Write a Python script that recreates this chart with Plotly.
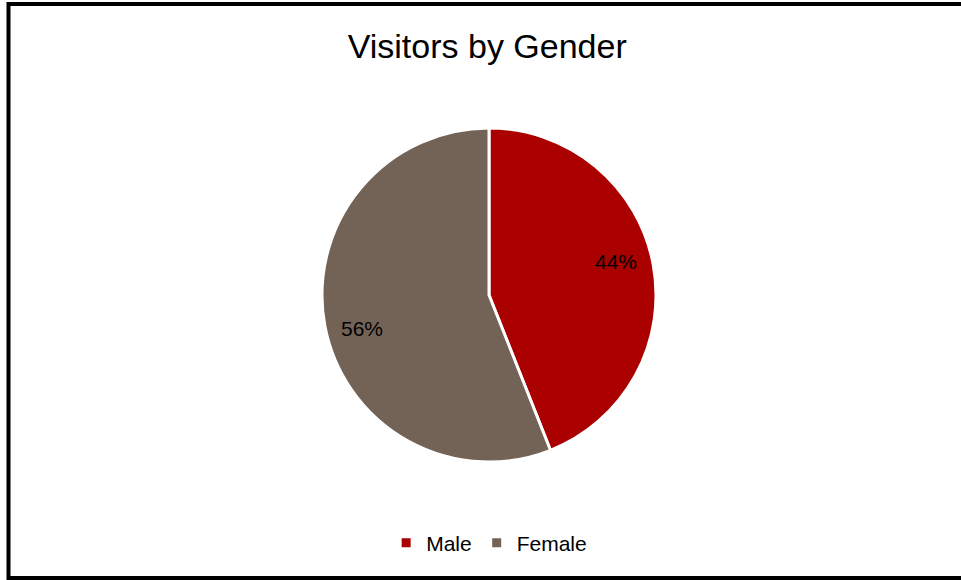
import math
import plotly.graph_objects as go

W, H = 961, 580
labels = ["Male", "Female"]
values = [44, 56]
colors = ["#AA0000", "#736357"]

cx, cy, R = 489, 295, 167
FONT = "Liberation Sans, Arial, sans-serif"

fig = go.Figure(go.Pie(
    labels=labels,
    values=values,
    sort=False,
    direction="clockwise",
    rotation=0,
    marker=dict(colors=colors, line=dict(color="white", width=3)),
    textinfo="none",
    domain=dict(x=[(cx - R) / W, (cx + R) / W], y=[(H - cy - R) / H, (H - cy + R) / H]),
    hoverinfo="label+percent",
))

# percentage labels placed along each slice's mid angle (derived from the data)
total = sum(values)
annotations = []
start = 0.0
for v in values:
    frac = v / total
    mid = (start + frac / 2) * 360 - 4
    a = math.radians(mid)
    r = 0.785 * R
    px = cx + r * math.sin(a)
    py = cy - r * math.cos(a)
    annotations.append(dict(x=px / W, y=1 - py / H, xref="paper", yref="paper",
                            text=f"{round(frac * 100)}%", showarrow=False,
                            font=dict(family=FONT, size=21, color="black")))
    start += frac

fig.update_layout(
    width=W, height=H,
    margin=dict(l=0, r=0, t=0, b=0),
    paper_bgcolor="white",
    title=dict(text="Visitors by Gender", x=0.507, xanchor="center", y=1 - 46 / H, yanchor="middle",
               font=dict(family=FONT, size=34, color="black")),
    legend=dict(orientation="h", x=0.509, xanchor="center", y=1 - 543 / H, yanchor="middle",
                font=dict(family=FONT, size=21, color="black"),
                itemwidth=30, traceorder="normal"),
    annotations=annotations,
    shapes=[dict(type="rect", xref="paper", yref="paper",
                 x0=8.5 / W, x1=1.02, y0=1 - 578 / H, y1=1 - 4 / H,
                 line=dict(color="black", width=4), fillcolor="rgba(0,0,0,0)", layer="above")],
)

fig.write_html("out.html", config={"displayModeBar": False},
               post_script="document.body.style.margin='0';")
